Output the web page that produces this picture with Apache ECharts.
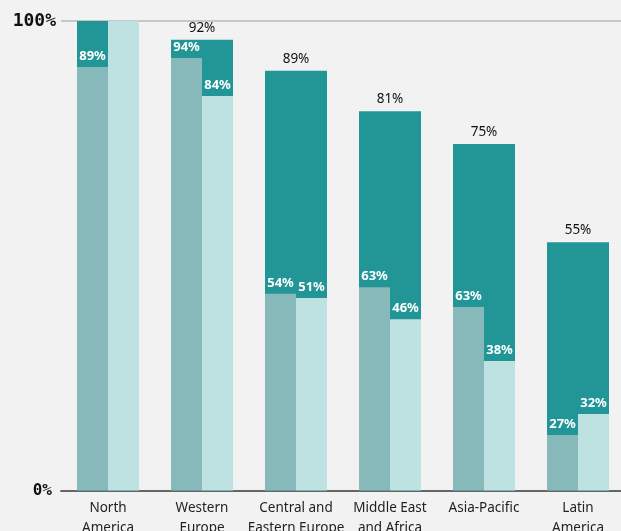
<!DOCTYPE html>
<html>
<head>
<meta charset="utf-8">
<script src="https://cdn.jsdelivr.net/npm/echarts@6/dist/echarts.min.js"></script>
<style>
html,body{margin:0;padding:0;background:#f2f2f2;}
#c{width:621px;height:531px;}
</style>
</head>
<body>
<div id="c"></div>
<script>
const categories = ["North\nAmerica", "Western\nEurope", "Central and\nEastern Europe", "Middle East\nand Africa", "Asia-Pacific", "Latin\nAmerica"];
// bar heights as drawn (percent of axis)
const totalValues = [100, 96, 89.4, 80.8, 73.8, 52.9];
const totalLabels = ["", "92%", "89%", "81%", "75%", "55%"];
const mediumValues = [90.2, 92.1, 41.9, 43.3, 39.1, 11.8];
const mediumLabels = ["89%", "94%", "54%", "63%", "63%", "27%"];
const lightValues = [100, 84.0, 41.0, 36.5, 27.6, 16.3];
const lightLabels = ["", "84%", "51%", "46%", "38%", "32%"];
const yTicks = [0, 100];

const chart = echarts.init(document.getElementById('c'), null, {renderer: 'canvas'});
const font = 'Noto Sans';
function mk(vals, labels) {
  return vals.map((v, i) => ({value: v, label: {formatter: labels[i]}}));
}
chart.setOption({
  backgroundColor: '#f2f2f2',
  animation: false,
  grid: {left: 61, right: -4, top: 21, bottom: 40.5, containLabel: false, outerBoundsMode: 'none'},
  xAxis: [{
    type: 'category', data: categories,
    axisLine: {show: true, lineStyle: {color: '#666', width: 2}},
    axisTick: {show: false},
    axisLabel: {color: '#222', fontFamily: font, fontSize: 13.5, lineHeight: 20, margin: 8, interval: 0}
  }, {
    type: 'category', data: categories, show: false
  }],
  yAxis: {
    type: 'value', min: yTicks[0], max: yTicks[1], interval: 100,
    axisLine: {show: false}, axisTick: {show: false},
    splitLine: {show: true, lineStyle: {color: '#b8b8b8', width: 1.5}},
    axisLabel: {
      margin: 5,
      formatter: v => v === 100 ? '{a|' + v + '%}' : '{b|' + v + '%}',
      rich: {
        a: {fontFamily: 'DejaVu Sans Mono', fontWeight: 'bold', fontSize: 18, color: '#111'},
        b: {fontFamily: 'DejaVu Sans Mono', fontWeight: 'bold', fontSize: 16, color: '#111', padding: [0, 4, 0, 0]}
      }
    }
  },
  series: [{
    type: 'bar', xAxisIndex: 1, data: mk(totalValues, totalLabels),
    barWidth: 62, itemStyle: {color: '#229697'}, z: 1,
    label: {show: true, position: 'top', distance: 5, color: '#111', fontFamily: font, fontSize: 13.5}
  }, {
    type: 'bar', xAxisIndex: 0, data: mk(mediumValues, mediumLabels),
    barWidth: 31, barGap: '0%', itemStyle: {color: '#87b9bb'}, z: 3,
    label: {show: true, position: 'top', distance: 4, color: '#fff', fontFamily: font, fontSize: 13, fontWeight: 'bold'}
  }, {
    type: 'bar', xAxisIndex: 0, data: mk(lightValues, lightLabels),
    barWidth: 31, barGap: '0%', itemStyle: {color: '#bee2e1'}, z: 3,
    label: {show: true, position: 'top', distance: 4, color: '#fff', fontFamily: font, fontSize: 13, fontWeight: 'bold'}
  }]
});
</script>
</body>
</html>
